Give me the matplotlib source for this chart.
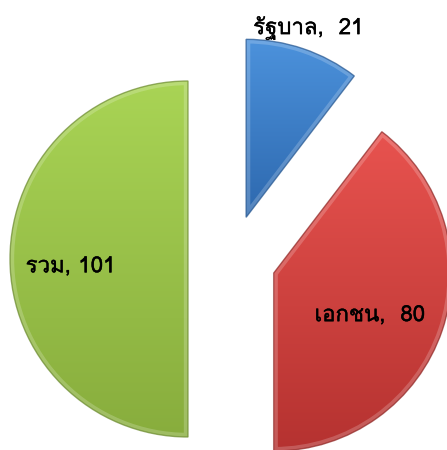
import numpy as np
import matplotlib.pyplot as plt
import matplotlib.patheffects as pe
from matplotlib import font_manager
from matplotlib.ft2font import FT2Font
from matplotlib.colors import LinearSegmentedColormap
from matplotlib.patches import PathPatch

# slice data, clockwise from 12 o'clock
labels = ['รัฐบาล', 'เอกชน', 'รวม']
values = [21, 80, 101]
label_text = ['รัฐบาล,  21', 'เอกชน,  80', 'รวม, 101']
top_colors = ['#4c92dc', '#e8534f', '#a9d455']
bottom_colors = ['#2d68ae', '#b53230', '#88ad3d']
edge_colors = ['#24558f', '#8f2624', '#6b8a2e']


def thai_font():
    # first installed font that actually has Thai glyphs
    for f in font_manager.fontManager.ttflist:
        try:
            if 0x0E23 in FT2Font(f.fname).get_charmap():
                return [f.name]
        except Exception:
            pass
    return []


plt.rcParams['font.family'] = thai_font() + ['DejaVu Sans']

fig = plt.figure(figsize=(4.47, 4.5), dpi=100)
ax = fig.add_axes([0, 0, 1, 1])

wedges, _ = ax.pie(values, explode=[44] * len(values), radius=178, center=(232, 191),
                   startangle=90, counterclock=False)
ax.set_xlim(0, 447)
ax.set_ylim(0, 450)
ax.set_aspect('equal')
ax.axis('off')

grad = np.linspace(0, 1, 256).reshape(-1, 1)
for w, c0, c1, ec in zip(wedges, top_colors, bottom_colors, edge_colors):
    w.set_facecolor('none')
    w.set_edgecolor('none')
    path = w.get_path()
    ext = path.get_extents()
    cmap = LinearSegmentedColormap.from_list('g', [c0, c1])
    im = ax.imshow(grad, cmap=cmap, aspect='auto', origin='upper',
                   extent=(ext.x0, ext.x1, ext.y0, ext.y1), zorder=1)
    im.set_clip_path(w)
    # soft bevel: light inner rim, dark outline
    rim = PathPatch(path, fill=False, edgecolor='white', alpha=0.2, lw=6, zorder=2)
    ax.add_patch(rim)
    rim.set_clip_path(w)
    ax.add_patch(PathPatch(path, fill=False, edgecolor=ec, alpha=0.7, lw=1.0, zorder=3))

# label offsets from each exploded wedge's centre, in radius units
label_dx = [0.35, 0.54, -0.66]
label_dy = [1.08, -0.225, -0.03]
for w, t, dx, dy in zip(wedges, label_text, label_dx, label_dy):
    cx, cy = w.center
    ax.text(cx + dx * w.r, cy + dy * w.r, t, ha='center', va='center_baseline',
            fontsize=16, color='black', zorder=4,
            path_effects=[pe.withStroke(linewidth=0.3, foreground='black')])

fig.savefig('out.png', dpi=100)
